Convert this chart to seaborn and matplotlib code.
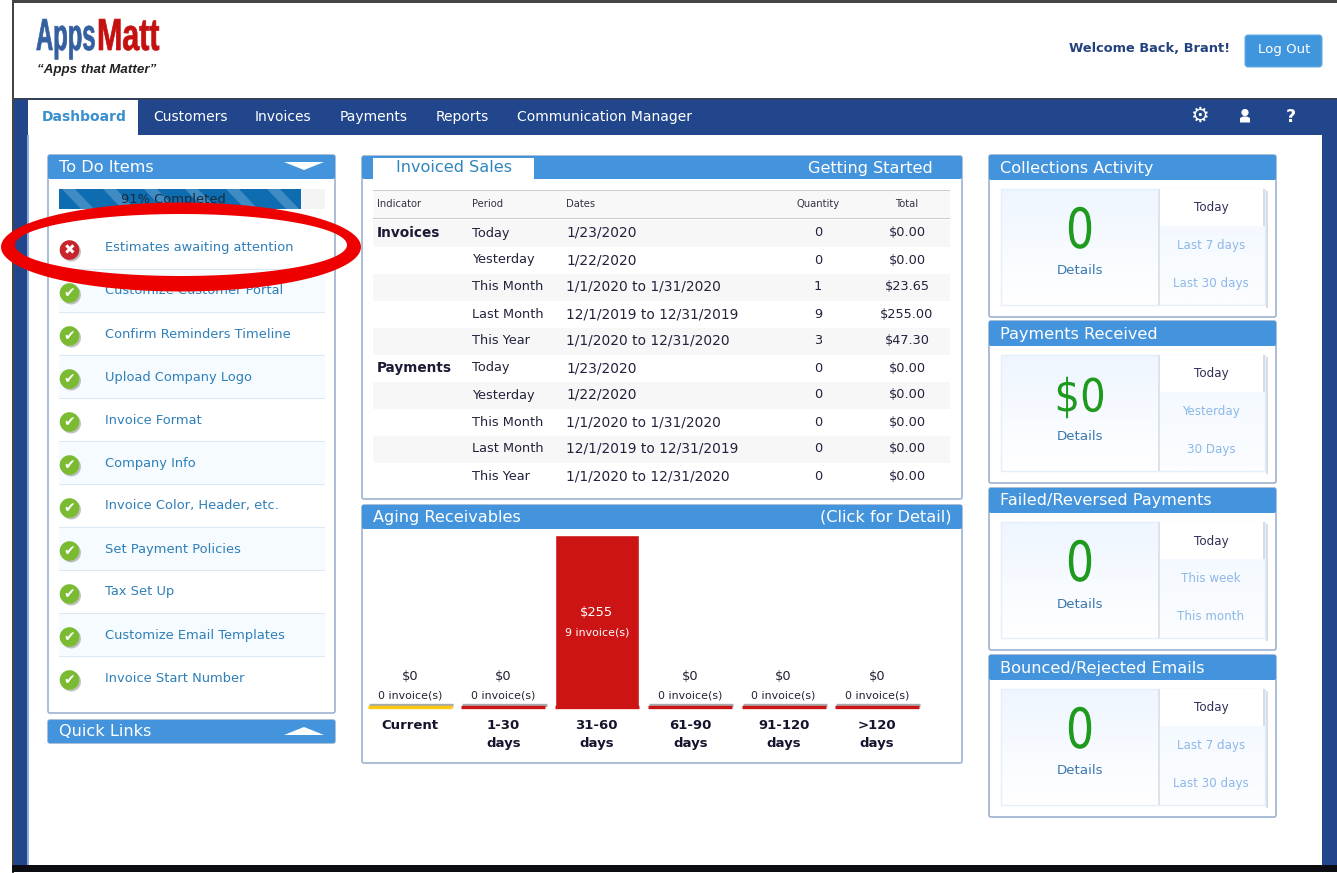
"""AppsMatt dashboard screenshot rebuilt with seaborn + matplotlib."""

import matplotlib
matplotlib.use("Agg")
import matplotlib.patheffects as pe
import matplotlib.pyplot as plt
import numpy as np
import pandas as pd
import seaborn as sns
from matplotlib.colors import to_rgb
from matplotlib.patches import Circle, FancyBboxPatch, PathPatch, Polygon, Rectangle
from matplotlib.path import Path
from matplotlib.transforms import Affine2D

W, H = 1337, 873

NAVY = "#21468B"
HEAD = "#4394DC"
BORDER = "#9DB3CF"
LINK = "#2F7FB8"
DARK = "#22223C"
GREEN = "#1E9A1E"
PALE_LINK = "#8DB8E8"

# data
nav_items = ["Customers", "Invoices", "Payments", "Reports", "Communication Manager"]

todo_items = [
    "Estimates awaiting attention", "Customize Customer Portal", "Confirm Reminders Timeline",
    "Upload Company Logo", "Invoice Format", "Company Info", "Invoice Color, Header, etc.",
    "Set Payment Policies", "Tax Set Up", "Customize Email Templates", "Invoice Start Number",
]
todo_done = [False] + [True] * 10

table_header = ["Indicator", "Period", "Dates", "Quantity", "Total"]
indicators = ["Invoices", "", "", "", "", "Payments", "", "", "", ""]
periods = ["Today", "Yesterday", "This Month", "Last Month", "This Year"] * 2
dates = [
    "1/23/2020", "1/22/2020", "1/1/2020 to 1/31/2020", "12/1/2019 to 12/31/2019", "1/1/2020 to 12/31/2020",
    "1/23/2020", "1/22/2020", "1/1/2020 to 1/31/2020", "12/1/2019 to 12/31/2019", "1/1/2020 to 12/31/2020",
]
quantities = [0, 0, 1, 9, 3, 0, 0, 0, 0, 0]
totals = ["$0.00", "$0.00", "$23.65", "$255.00", "$47.30", "$0.00", "$0.00", "$0.00", "$0.00", "$0.00"]

aging_buckets = ["Current", "1-30\ndays", "31-60\ndays", "61-90\ndays", "91-120\ndays", ">120\ndays"]
aging_amounts = [0, 0, 255, 0, 0, 0]
aging_invoices = [0, 0, 9, 0, 0, 0]
aging_colors = ["#FFC90E", "#CC1414", "#CC1414", "#CC1414", "#CC1414", "#CC1414"]

widget_titles = ["Collections Activity", "Payments Received", "Failed/Reversed Payments", "Bounced/Rejected Emails"]
widget_values = ["0", "$0", "0", "0"]
widget_periods = [
    ["Today", "Last 7 days", "Last 30 days"],
    ["Today", "Yesterday", "30 Days"],
    ["Today", "This week", "This month"],
    ["Today", "Last 7 days", "Last 30 days"],
]


class Squeeze(pe.AbstractPathEffect):
    """Scale a text around an anchor, the logo and big digits are condensed."""

    def __init__(self, sx, sy, x0, y0, stroke=0):
        super().__init__()
        self.tr = Affine2D().translate(-x0, -y0).scale(sx, sy).translate(x0, y0)
        self.stroke = stroke

    def draw_path(self, renderer, gc, tpath, affine, rgbFace=None):
        gc0 = renderer.new_gc()
        gc0.copy_properties(gc)
        if self.stroke:
            gc0.set_linewidth(self.stroke)
            gc0.set_foreground(rgbFace)
        renderer.draw_path(gc0, tpath, affine + self.tr, rgbFace)
        gc0.restore()


sns.set_theme(style="white")
plt.rcParams["font.family"] = ["DejaVu Sans"]

fig = plt.figure(figsize=(W / 100, H / 100), dpi=100, facecolor="white")
bg = fig.add_axes([0, 0, 1, 1])
bg.axis("off")


def box(x0, y0, x1, y1, color, **kw):
    bg.add_patch(Rectangle((x0, y0), x1 - x0, y1 - y0, facecolor=color, edgecolor=kw.pop("edge", "none"),
                           linewidth=kw.pop("lw", 0), **kw))


def rbox(x0, y0, x1, y1, color, edge="none", lw=0, r=2):
    bg.add_patch(FancyBboxPatch((x0 + r, y0 + r), x1 - x0 - 2 * r, y1 - y0 - 2 * r,
                                boxstyle=f"round,pad={r},rounding_size={r}",
                                facecolor=color, edgecolor=edge, linewidth=lw))


def gradient(x0, y0, x1, y1, top, bottom):
    colors = np.linspace(to_rgb(top), to_rgb(bottom), 16)[:, None, :]
    bg.imshow(colors, extent=(x0, x1, y1, y0), aspect="auto", interpolation="bilinear", zorder=1.5)


def label(x, y, s, size=9, color=DARK, ha="left", weight="normal", **kw):
    return bg.text(x, y, s, fontsize=size, color=color, ha=ha, va="center", weight=weight, **kw)


def panel(x0, y0, x1, y1, head_h, title, title_size=11.6):
    rbox(x0, y0, x1, y1, "white", edge=BORDER, lw=1.2)
    rbox(x0, y0, x1, y0 + head_h, HEAD)
    if title:
        label(x0 + 11, y0 + head_h / 2 + 0.5, title, size=title_size, color="white")


# ── Page frame ────────────────────────────────────────────────────────────
box(12, 0, W, 2.5, "#444444")
box(12, 0, 13.5, H, "#444444")
box(13.5, 98, W, 100, "#33405C")
box(13.5, 100, W, 865, NAVY)
box(28, 135, 1322, 865, "white")
box(28, 100, 138, 135, "white")
box(27, 135, 28.5, 865, "#8FAEDB")
box(12, 865, W, 872, "#0B0D12")

# logo
logo_y = H - 50
bg.text(36, 50, "Apps", fontsize=17.5, weight="bold", color="#34609F", family="Liberation Sans",
        path_effects=[Squeeze(0.98, 1.85, 36, logo_y, stroke=0.5)], va="baseline")
bg.text(97, 50, "Matt", fontsize=17.5, weight="bold", color="#C4100F", family="Liberation Sans",
        path_effects=[Squeeze(1.25, 1.85, 97, logo_y, stroke=0.5)], va="baseline")
label(37, 70, "\u201cApps that Matter\u201d", size=9.6, color="#222222", weight="bold", style="italic",
      family="Liberation Sans")

label(1230, 48, "Welcome Back, Brant!", size=9.4, color="#24427F", ha="right", weight="bold")
rbox(1245, 35, 1322, 67, "#3F96DC", edge="#6AAEE6", lw=0.8, r=3)
label(1284, 50, "Log Out", size=9.6, color="white", ha="center")

# ── Nav bar ───────────────────────────────────────────────────────────────
label(84, 117, "Dashboard", size=10, color="#3A8FCF", ha="center", weight="bold")
for x, item in zip([153, 255, 340, 436, 517], nav_items):
    label(x, 117, item, size=10, color="white")
label(1199, 116, "\u2699", size=15, color="white", ha="center", weight="bold")
bg.add_patch(Circle((1245, 112.5), 3.6, facecolor="white", edgecolor="none"))
bg.add_patch(Polygon([(1240, 122.5), (1240, 118), (1243, 116.5), (1247, 116.5), (1250, 118), (1250, 122.5)],
                     facecolor="white", edgecolor="none"))
label(1291, 117, "?", size=12.5, color="white", ha="center", weight="bold")

# ── To Do panel ───────────────────────────────────────────────────────────
panel(48, 155, 335, 713, 24, "To Do Items")
bg.add_patch(Polygon([(284, 162), (324, 162), (304, 170)], facecolor="white", edgecolor="none"))

rbox(59, 189, 325, 209, "#F4F4F4", r=2)
box(59, 189, 301, 209, "#0E6CB0")
bar_clip = Rectangle((59, 189), 242, 20, transform=bg.transData)
for sx in range(62, 300, 41):
    stripe = Polygon([(sx, 189), (sx + 13, 189), (sx + 32, 209), (sx + 19, 209)], facecolor="#3F8CC4", edgecolor="none")
    bg.add_patch(stripe)
    stripe.set_clip_path(bar_clip)
label(173, 199, "91% Completed", size=9.4, color="#1A2A3A", ha="center")

todo_rows = [248 + i * 43 for i in range(len(todo_items))]
for i, (y, item, done) in enumerate(zip(todo_rows, todo_items, todo_done)):
    if i % 2 == 1:
        box(59, y - 21, 325, y + 21, "#F5FBFF")
    if i > 0:
        box(59, y - 22, 325, y - 21, "#D8E8F6")
    shadow = [pe.SimplePatchShadow(offset=(1.2, -1.2), shadow_rgbFace="#999999", alpha=0.6), pe.Normal()]
    bg.add_patch(Circle((69.5, y + 2), 9.8, facecolor="#7ABB32" if done else "#C8242C", edgecolor="none",
                        path_effects=shadow))
    label(69.5, y + 2, "\u2714" if done else "\u2716", size=10, color="white", ha="center", weight="bold")
    label(105, y, item, size=9.4, color=LINK)

# hand drawn red ring, thicker along the bottom
theta = np.linspace(0, 2 * np.pi, 120)
outer = np.column_stack([181 + 180 * np.cos(theta), 247 + 44.5 * np.sin(theta)])
inner = np.column_stack([181 + 166 * np.cos(theta), 245 + 31 * np.sin(theta)])[::-1]
ring_codes = ([Path.MOVETO] + [Path.LINETO] * 118 + [Path.CLOSEPOLY]) * 2
bg.add_patch(PathPatch(Path(np.concatenate([outer, inner]), ring_codes), facecolor="#EE0000", edgecolor="none",
                       zorder=6))

panel(48, 720, 335, 743, 23, "Quick Links")
bg.add_patch(Polygon([(284, 735), (324, 735), (304, 727)], facecolor="white", edgecolor="none"))

# ── Invoiced Sales ────────────────────────────────────────────────────────
panel(362, 156, 962, 499, 23, "")
box(373, 158, 534, 179.5, "white")
label(454, 168, "Invoiced Sales", size=11.6, color="#2F86BE", ha="center")
label(933, 168, "Getting Started", size=11.6, color="white", ha="right")

box(373, 190, 950, 219, "#F8F8F8")
box(373, 190, 950, 191, "#CCCCCC")
box(373, 218, 950, 219, "#CCCCCC")
col_x = [377, 472, 566, 818, 907]
col_ha = ["left", "left", "left", "center", "center"]
for x, ha, name in zip(col_x, col_ha, table_header):
    label(x, 204, name, size=7.2, color="#333344", ha=ha)

for i in range(len(periods)):
    y = 233 + i * 27
    if i % 2 == 0:
        box(373, y - 13.5, 950, y + 13.5, "#F7F7F7")
    label(col_x[0], y, indicators[i], size=9.8, color="#1A1A36", weight="bold")
    label(col_x[1], y, periods[i], size=9.3)
    label(col_x[2], y, dates[i], size=9.9)
    label(col_x[3], y, str(quantities[i]), size=9.3, ha="center")
    label(col_x[4], y, totals[i], size=9.3, ha="center")

# ── Aging Receivables ─────────────────────────────────────────────────────
panel(362, 505, 962, 763, 24, "Aging Receivables")
label(951, 517, "(Click for Detail)", size=11.6, color="white", ha="right")

chart = fig.add_axes([363.3 / W, (H - 707) / H, 560.4 / W, 172 / H])
chart.patch.set_alpha(0)
aging = pd.DataFrame({"bucket": aging_buckets, "amount": aging_amounts, "invoices": aging_invoices})
sns.barplot(data=aging, x="bucket", y="amount", hue="bucket", palette=aging_colors, width=0.9,
            legend=False, saturation=1, ax=chart)
chart.set_ylim(0, 255)
chart.set_xlim(-0.5, 5.5)
chart.set_xlabel("")
chart.set_ylabel("")
chart.set_yticks([])
chart.tick_params(axis="x", length=0, pad=8.5)
chart.set_xticks(range(len(aging_buckets)))
chart.set_xticklabels(aging_buckets, fontsize=9.5, weight="bold", color="#14142E", linespacing=1.55, va="top")
sns.despine(ax=chart, left=True, bottom=True)

for i, bar in enumerate(chart.patches):
    x0, x1 = bar.get_x(), bar.get_x() + bar.get_width()
    inside = aging_amounts[i] > 0
    if inside:
        bar.set_path_effects([pe.SimplePatchShadow(offset=(1.2, 1.2), shadow_rgbFace="#999999", alpha=0.8),
                              pe.Normal()])
        line_fx = [pe.Normal()]
    else:
        line_fx = [pe.SimpleLineShadow(offset=(0.8, 1.5), shadow_color="#AAAAAA", alpha=1), pe.Normal()]
    chart.plot([x0, x1], [0, 0], color=aging_colors[i], lw=2.4, clip_on=False, solid_capstyle="butt",
               path_effects=line_fx)
    off_amount, off_count = (-77, -97) if inside else (31, 11)
    text_color = "white" if inside else "#222233"
    chart.annotate(f"${aging_amounts[i]}", (i, aging_amounts[i]), xytext=(0, off_amount),
                   textcoords="offset pixels", ha="center", va="center", fontsize=9.4, color=text_color)
    chart.annotate(f"{aging_invoices[i]} invoice(s)", (i, aging_amounts[i]), xytext=(0, off_count),
                   textcoords="offset pixels", ha="center", va="center", fontsize=7.9, color=text_color)

# ── Right column widgets ──────────────────────────────────────────────────
widget_tops = [155, 321, 488, 655]
widget_bottoms = [317, 483, 650, 817]
for top, bottom, title, value, opts in zip(widget_tops, widget_bottoms, widget_titles, widget_values, widget_periods):
    panel(989, top, 1276, bottom, 25, title)
    y0, y1 = top + 34, bottom - 12
    box(1266, y0 + 2, 1268, y1 + 3, "#D5DCE6")
    gradient(1001, y0, 1158, y1, "#EFF6FF", "#FFFFFF")
    gradient(1158, y0, 1265, y1, "#F2F8FF", "#FBFDFF")
    box(1001, y0, 1265, y1, "none", edge="#E3EFFA", lw=1, zorder=2)
    box(1158, y0, 1160, y1, "#DDE3EA", zorder=2)
    box(1160, y0, 1263, y0 + 37, "white", zorder=2)
    box(1263, y0, 1265, y0 + 37, "#D5DCE6", zorder=2)

    cy = top + 78
    is_plain = value == "0"
    big = label(1080, cy, value, size=40 if is_plain else 33, color=GREEN, ha="center")
    big.set_path_effects([Squeeze(0.8 if is_plain else 0.88, 1.0, 1080, H - cy)])
    label(1080, top + 116, "Details", size=9.6, color="#3A78AE", ha="center")
    label(1211, top + 53, opts[0], size=8.6, color="#30305A", ha="center")
    label(1211, top + 91, opts[1], size=8.6, color=PALE_LINK, ha="center")
    label(1211, top + 129, opts[2], size=8.6, color=PALE_LINK, ha="center")

# imshow resets the limits, so fix the pixel frame at the end
bg.set_xlim(0, W)
bg.set_ylim(H, 0)

fig.savefig("out.png", dpi=100, facecolor="white")
